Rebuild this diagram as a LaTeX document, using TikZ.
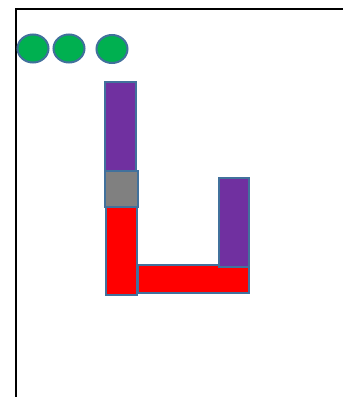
\documentclass[tikz,border=0pt]{standalone}
\usetikzlibrary{shapes.geometric}
\definecolor{edge}{HTML}{41719C}
\definecolor{dotgreen}{HTML}{00B050}
\definecolor{barpurple}{HTML}{7030A0}
\definecolor{barred}{HTML}{FF0000}
\definecolor{bargray}{HTML}{808080}
\tikzset{
  bar/.style={draw=edge, line width=2pt, rectangle, inner sep=0pt, outer sep=0pt},
  dot/.style={draw=edge, line width=2pt, ellipse, fill=dotgreen, inner sep=0pt,
    minimum width=31pt, minimum height=28pt},
  frame/.style={draw=black, line width=2.2pt}
}
\begin{document}
\begin{tikzpicture}[x=1pt,y=-1pt]
\useasboundingbox[fill=white] (0,0) rectangle (343,397);
\coordinate (fb) at (16,397);
\coordinate (fc) at (16,9);
\coordinate (fr) at (343,9);
\draw[frame] (fb) -- (fc) -- (fr);
\node[dot] (d1) at (33,48.5) {};
\node[dot] (d2) at (69,48.5) {};
\node[dot] (d3) at (112,49) {};
\node[bar, fill=barpurple, minimum width=31pt, minimum height=90pt] (p1) at (120,127) {};
\node[bar, fill=bargray, minimum width=33pt, minimum height=36pt] (g1) at (121.5,189) {};
\node[bar, fill=barred, minimum width=31pt, minimum height=88pt] (r1) at (121,251) {};
\node[bar, fill=barred, minimum width=111pt, minimum height=28pt] (r2) at (193,279) {};
\node[bar, fill=barpurple, minimum width=30pt, minimum height=89pt] (p2) at (233.5,222.5) {};
\end{tikzpicture}
\end{document}
